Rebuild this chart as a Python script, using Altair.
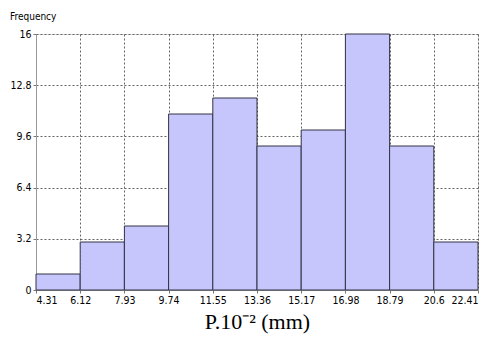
import altair as alt
import pandas as pd

edges = [4.31, 6.12, 7.93, 9.74, 11.55, 13.36, 15.17, 16.98, 18.79, 20.6, 22.41]
counts = [1, 3, 4, 11, 12, 9, 10, 16, 9, 3]
y_ticks = [0, 3.2, 6.4, 9.6, 12.8, 16]

df = pd.DataFrame({"start": edges[:-1], "end": edges[1:], "count": counts, "base": [0] * len(counts)})

label_font = "DejaVu Sans Condensed, Liberation Sans, sans-serif"

bars = alt.Chart(df).mark_bar(
    color="#c6c6fc", stroke="#333344", strokeWidth=1
).encode(
    x=alt.X("start:Q",
            scale=alt.Scale(domain=[edges[0], edges[-1]], nice=False, zero=False),
            axis=alt.Axis(values=edges, labelExpr="datum.value + ''",
                          title="P.10⁻² (mm)", titleFont="Liberation Serif",
                          titleFontSize=22, titleFontWeight="normal", titleColor="#000",
                          titlePadding=6,
                          grid=True, gridDash=[2, 2], gridColor="#555", gridOpacity=0.9,
                          domain=True, domainColor="#999",
                          ticks=True, tickSize=3, tickColor="#777",
                          labelFont=label_font, labelFontSize=10.5, labelColor="#000",
                          labelPadding=2)),
    x2="end:Q",
    y=alt.Y("count:Q",
            scale=alt.Scale(domain=[0, 16], nice=False),
            axis=alt.Axis(values=y_ticks, labelExpr="datum.value + ''",
                          title=None,
                          grid=True, gridDash=[2, 2], gridColor="#555", gridOpacity=0.9,
                          domain=True, domainColor="#999",
                          ticks=True, tickSize=3, tickColor="#777",
                          labelFont=label_font, labelFontSize=10.5, labelColor="#000",
                          labelPadding=2)),
    y2="base:Q",
)

chart = bars.properties(
    width=442, height=256,
    title=alt.TitleParams("Frequency", anchor="start", frame="group", font=label_font, fontSize=10,
                          fontWeight="normal", color="#000", offset=7, dx=-26),
    autosize=alt.AutoSizeParams(type="none"),
    padding={"left": 36, "top": 34, "right": 14, "bottom": 57},
).configure_view(stroke="#bbb", strokeWidth=1).configure(background="white")

chart.save("out.html", embed_options={"renderer": "svg", "actions": False})
